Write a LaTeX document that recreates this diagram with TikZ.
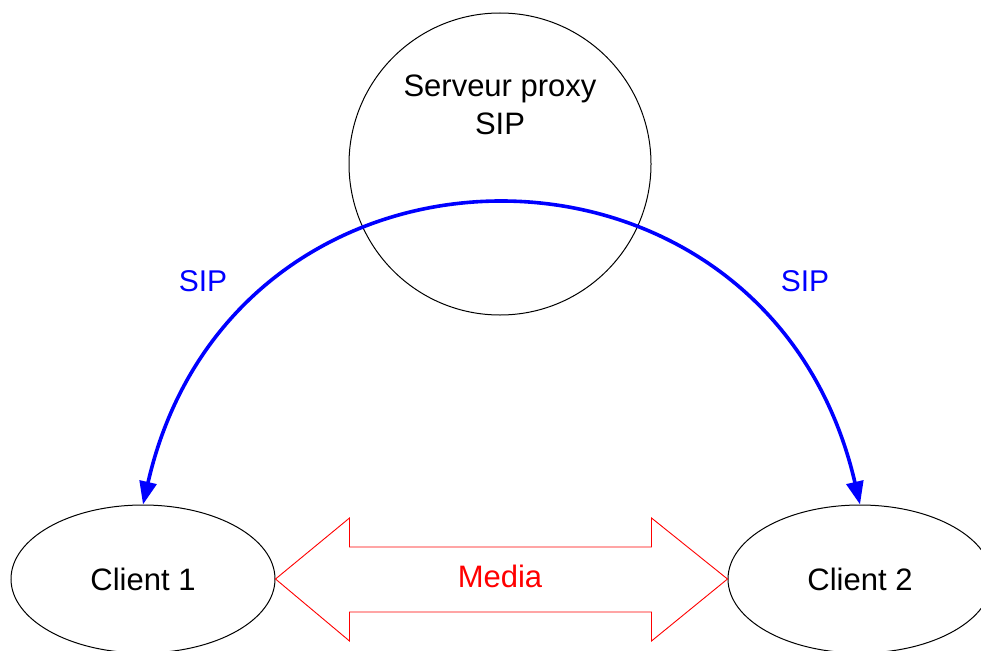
\documentclass[tikz,border=0pt]{standalone}
\usepackage{fontspec}
\setmainfont{Liberation Sans}
\usetikzlibrary{arrows.meta,shapes.geometric,calc}
\begin{document}
\begin{tikzpicture}[x=1pt,y=-1pt,
  lbl/.style={font=\fontsize{31}{38}\selectfont},
  sipfont/.style={font=\fontsize{30}{36}\selectfont, text=blue},
  srv/.style={circle, draw=black, line width=1pt, minimum size=302pt, inner sep=0pt},
  client/.style={ellipse, draw=black, line width=1pt, minimum width=264pt, minimum height=148pt, inner sep=0pt, lbl},
  sipline/.style={draw=blue, line width=3.6pt, {Triangle[length=23pt,width=17pt]}-{Triangle[length=23pt,width=17pt]}},
  media/.style={draw=red, line width=0.9pt, line join=miter}
]
\fill[white] (0,0) rectangle (981,650);
\useasboundingbox (0,0) rectangle (981,650);

\node[srv] (proxy) at (500,164) {};
\node[lbl, align=center] (proxylabel) at (500,105) {Serveur proxy\\SIP};

\node[client] (c1) at (143,579) {Client 1};
\node[client] (c2) at (860,579) {Client 2};

\draw[sipline] (c1.north) .. controls (234,107) and (768,107) .. (c2.north);

\node[sipfont] (sipl) at (203,281) {SIP};
\node[sipfont] (sipr) at (805,281) {SIP};

\draw[media] (c1.east) -- ++(74,-61) -- ++(0,29) -- ($(c2.west)+(-76,-32)$) -- ++(0,-29) -- (c2.west)
  -- ++(-76,62) -- ++(0,-29) -- ($(c1.east)+(74,33)$) -- ++(0,29) -- cycle;
\node[lbl, text=red] (medialabel) at (500,576) {Media};
\end{tikzpicture}
\end{document}
